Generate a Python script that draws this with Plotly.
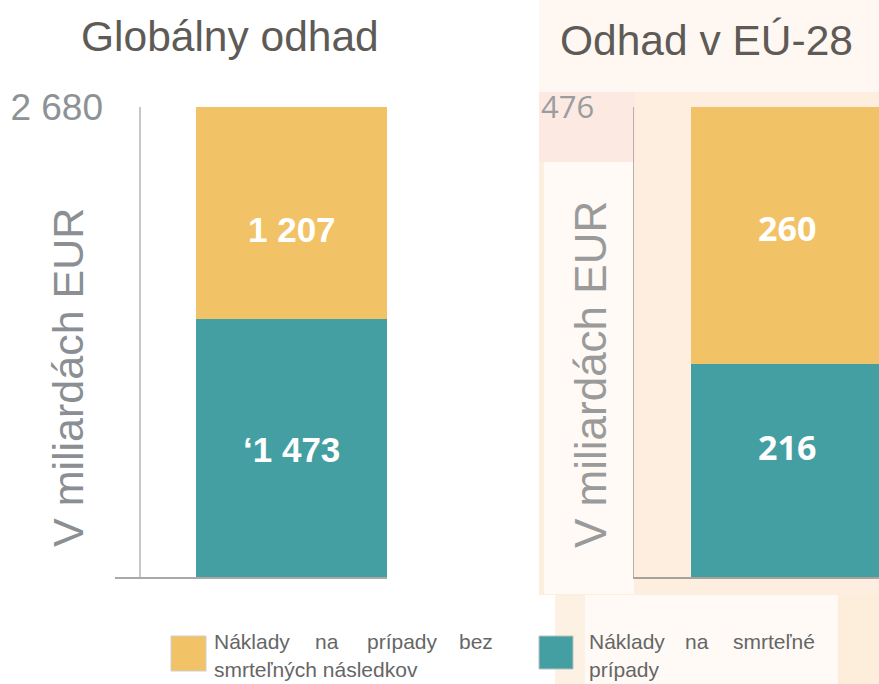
import plotly.graph_objects as go

# ---- data ----
panels = ["Globálny odhad", "Odhad v EÚ-28"]
fatal = [1473, 216]            # Náklady na smrteľné prípady
nonfatal = [1207, 260]         # Náklady na prípady bez smrteľných následkov
totals = [2680, 476]
total_labels = ["2 680", "476"]
fatal_labels = ["‘1 473", "216"]
nonfatal_labels = ["1 207", "260"]
axis_title = "V miliardách EUR"
legend_nonfatal = ["Náklady", "na", "prípady", "bez", "smrteľných následkov"]
legend_fatal = ["Náklady", "na", "smrteľné", "prípady"]

ORANGE = "#f2c366"
TEAL = "#449fa2"

W, H = 879, 684
def px(x): return x / W
def py(y): return 1 - y / H

fig = go.Figure()
bar_x = [0.7932, 0.7984]
for i, (xa, ya) in enumerate([("x", "y"), ("x2", "y2")]):
    fig.add_trace(go.Bar(x=[bar_x[i]], y=[fatal[i]], width=1, marker=dict(color=TEAL, line=dict(width=0)),
                         xaxis=xa, yaxis=ya, showlegend=False, hoverinfo="skip"))
    fig.add_trace(go.Bar(x=[bar_x[i]], y=[nonfatal[i]], width=1, marker=dict(color=ORANGE, line=dict(width=0)),
                         xaxis=xa, yaxis=ya, showlegend=False, hoverinfo="skip"))

ann = []
fonts = [dict(family="Liberation Sans, Arial", size=35, color="white"),
         dict(family="Open Sans", size=34, color="white")]
shifts = [(-2, -17), (23, 7)]
for i, (xa, ya) in enumerate([("x", "y"), ("x2", "y2")]):
    fnt = dict(fonts[i])
    ann.append(dict(x=bar_x[i], y=fatal[i] / 2, xref=xa, yref=ya, text="<b>%s</b>" % fatal_labels[i],
                    showarrow=False, font=fnt, yshift=shifts[i][0], xanchor="center", yanchor="middle"))
    ann.append(dict(x=bar_x[i], y=fatal[i] + nonfatal[i] / 2, xref=xa, yref=ya,
                    text="<b>%s</b>" % nonfatal_labels[i], showarrow=False, font=fnt, yshift=shifts[i][1],
                    xanchor="center", yanchor="middle"))

def pann(x, y, text, font, xanchor="center", textangle=0):
    return dict(x=px(x), y=py(y), xref="paper", yref="paper", text=text, showarrow=False,
                xanchor=xanchor, yanchor="middle", font=font, textangle=textangle)

tf = dict(family="Liberation Sans, Arial", size=42.5, color="#5e5b57")
ann.append(pann(230, 37, panels[0], tf))
ann.append(pann(706, 40, panels[1], tf))
ann.append(pann(68, 378, axis_title, dict(family="Liberation Sans, Arial", size=43, color="#8b8f93"),
                textangle=-90))
ann.append(pann(590, 375, axis_title, dict(family="Liberation Sans, Arial", size=44, color="#9a9a9a"),
                textangle=-90))

lf = dict(family="Liberation Sans, Arial", size=21, color="#666666")
for word, x, anc in zip(legend_nonfatal[:4], [212, 313, 365, 495], ["left", "left", "left", "right"]):
    ann.append(pann(x, 641, word, lf, xanchor=anc))
ann.append(pann(212, 669, legend_nonfatal[4], lf, xanchor="left"))
for word, x, anc in zip(legend_fatal[:3], [587, 683, 817], ["left", "left", "right"]):
    ann.append(pann(x, 641, word, lf, xanchor=anc))
ann.append(pann(587, 669, legend_fatal[3], lf, xanchor="left"))

def rect(x0, y0, x1, y1, color, line=None, layer="below"):
    return dict(type="rect", xref="paper", yref="paper", x0=px(x0), x1=px(x1), y0=py(y1), y1=py(y0),
                fillcolor=color, line=line or dict(width=0), layer=layer)

shapes = [
    rect(539, 0, 879, 92, "#fff8f2"),
    rect(539, 92, 879, 595, "#fdeee0"),
    rect(539, 92, 635, 162, "#fceae2"),
    rect(544, 162, 634, 594, "#fffaf5"),
    rect(555, 595, 585, 684, "#fdf1e4"),
    rect(585, 595, 838, 684, "#fffaf5"),
    rect(838, 595, 879, 684, "#fdeedb"),
    rect(171, 636, 206, 671, ORANGE, line=dict(color="#cfcfcf", width=1), layer="above"),
    rect(539, 636, 573, 669, TEAL, line=dict(color="#bfbfbf", width=1), layer="above"),
]

fig.update_layout(
    width=W, height=H, margin=dict(l=0, r=0, t=0, b=0, autoexpand=False),
    paper_bgcolor="white", plot_bgcolor="rgba(0,0,0,0)",
    barmode="stack", showlegend=False,
    annotations=ann, shapes=shapes,
    xaxis=dict(domain=[px(115), px(387)], range=[-0.1309, 1.2932], showticklabels=False, showgrid=False,
               zeroline=True, zerolinecolor="#c6c6c6", zerolinewidth=1.5, automargin=False,
               showline=True, linecolor="#a9a9a9", linewidth=1.5, fixedrange=True),
    yaxis=dict(domain=[py(577), py(107)], range=[0, totals[0]], tickvals=[totals[0]], ticktext=[total_labels[0]],
               showgrid=False, zeroline=False, showline=False, ticks="", ticklabelstandoff=11, automargin=False,
               tickfont=dict(family="Liberation Sans, Arial", size=37, color="#8c9296")),
    xaxis2=dict(domain=[px(634), 1], range=[0, 1.2827], anchor="y2", showticklabels=False, showgrid=False,
                zeroline=False, showline=True, linecolor="#a8a29c", linewidth=1.5, automargin=False),
    yaxis2=dict(domain=[py(577), py(107)], range=[0, totals[1]], anchor="x2", tickvals=[totals[1]],
                ticktext=[total_labels[1]], showgrid=False, zeroline=False, showline=True, automargin=False,
                linecolor="#b8b0a8", linewidth=1.5, ticks="", ticklabelstandoff=32,
                tickfont=dict(family="Open Sans", size=31, color="#9a9ca0")),
)

fig.write_html("out.html", config={"displayModeBar": False, "staticPlot": True},
               post_script="document.body.style.margin='0';document.body.style.overflow='hidden';")
